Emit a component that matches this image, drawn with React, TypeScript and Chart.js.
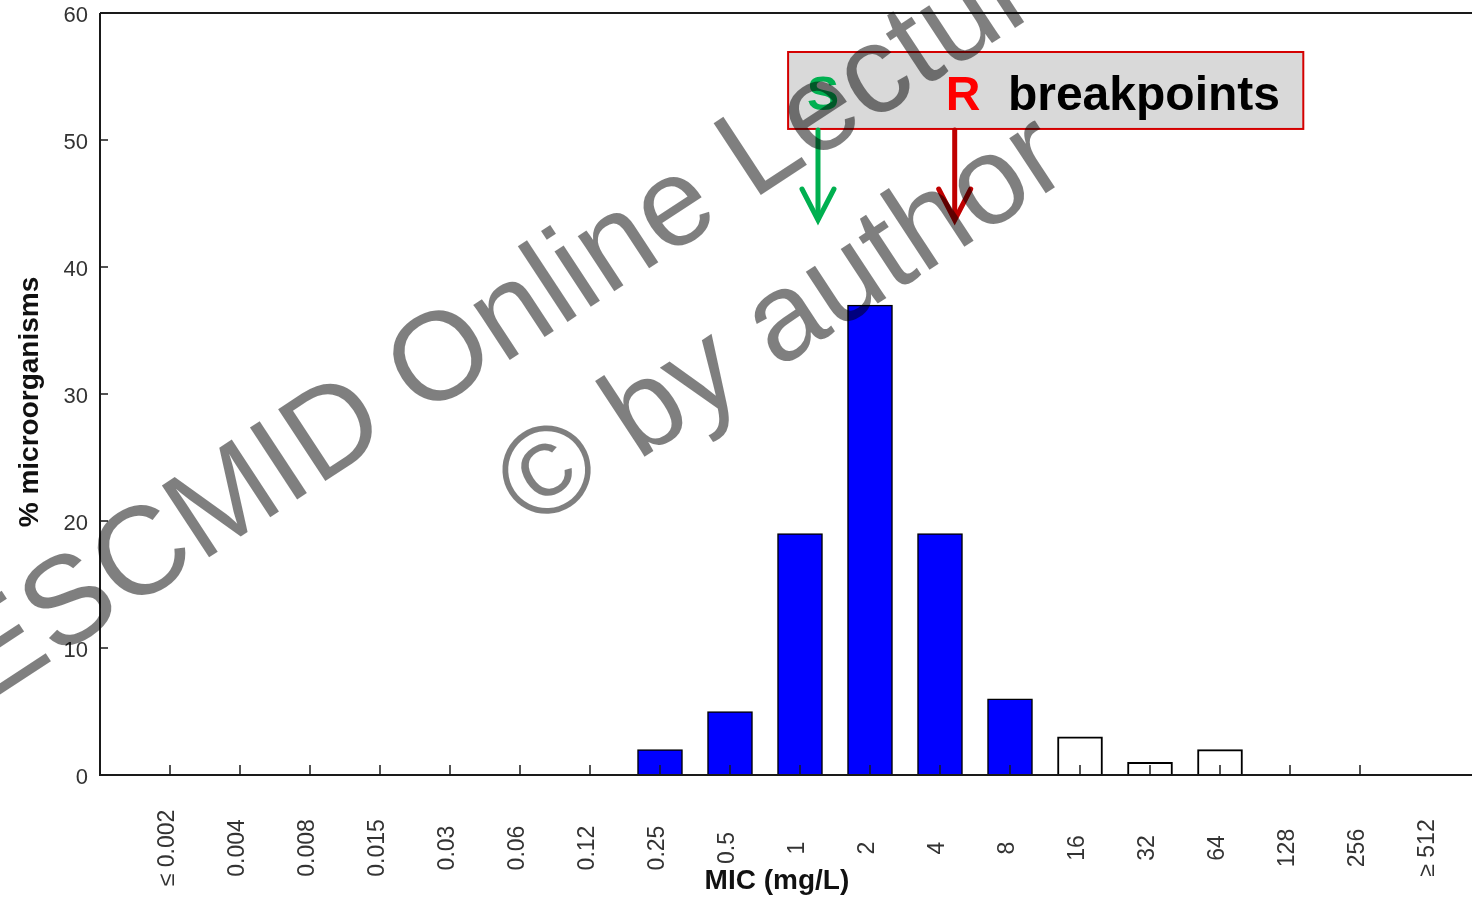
import { useEffect, useRef } from "react";
import { Chart, registerables } from "chart.js";

Chart.register(...registerables);

// ---- Data ----
const categories = [
  "≤ 0.002", "0.004", "0.008", "0.015", "0.03", "0.06", "0.12", "0.25", "0.5",
  "1", "2", "4", "8", "16", "32", "64", "128", "256", "≥ 512",
];
const wildType = [0, 0, 0, 0, 0, 0, 0, 2, 5, 19, 37, 19, 6, 0, 0, 0, 0, 0, 0];
const nonWildType = [0, 0, 0, 0, 0, 0, 0, 0, 0, 0, 0, 0, 0, 3, 1, 2, 0, 0, 0];
const yMin = 0;
const yMax = 60;
const yStep = 10;
const xTitle = "MIC (mg/L)";
const yTitle = "% microorganisms";
const boxWords = ["S", "R", "breakpoints"];
const watermarkLines = ["ESCMID Online Lecture Library", "© by author"];

// ---- Annotation placement (in data units) ----
const boxX = [8.83, 16.19];
const boxY = [50.87, 56.93];
const textY = 52.36;
const sArrowX = 9.257;
const rArrowX = 11.21;
const arrowTipY = 43.7;
const sTextX = 9.33;
const rTextX = 11.33;
const bpTextX = 11.97;

const FONT = "'Liberation Sans', Arial, Helvetica, sans-serif";

const decorPlugin = {
  id: "decor",
  afterDatasetsDraw(chart: any) {
    const { ctx, chartArea, scales } = chart;
    const x = scales.x;
    const y = scales.y;
    ctx.save();
    // axes frame
    ctx.strokeStyle = "#1a1a1a";
    ctx.lineWidth = 2;
    ctx.beginPath();
    ctx.moveTo(chartArea.left, chartArea.top);
    ctx.lineTo(chartArea.right, chartArea.top);
    ctx.moveTo(chartArea.left, chartArea.top);
    ctx.lineTo(chartArea.left, chartArea.bottom);
    ctx.lineTo(chartArea.right, chartArea.bottom);
    ctx.stroke();
    // inward ticks
    ctx.lineWidth = 1.5;
    ctx.beginPath();
    for (let v = yMin; v <= yMax; v += yStep) {
      const py = y.getPixelForValue(v);
      ctx.moveTo(chartArea.left, py);
      ctx.lineTo(chartArea.left + 8, py);
    }
    for (let i = 0; i < categories.length - 1; i++) {
      const px = x.getPixelForValue(i);
      ctx.moveTo(px, chartArea.bottom);
      ctx.lineTo(px, chartArea.bottom - 10);
    }
    ctx.stroke();
    // x labels (rotated)
    ctx.fillStyle = "#333";
    ctx.font = `23px ${FONT}`;
    ctx.textAlign = "center";
    ctx.textBaseline = "middle";
    categories.forEach((c, i) => {
      const px = x.getPixelForValue(i);
      ctx.save();
      ctx.translate(px - 2, chartArea.bottom + 73);
      ctx.rotate(-Math.PI / 2);
      ctx.fillText(c, 0, 0);
      ctx.restore();
    });
    // axis titles
    ctx.fillStyle = "#111";
    ctx.font = `bold 28px ${FONT}`;
    ctx.fillText(xTitle, x.getPixelForValue(8.67), chartArea.bottom + 106);
    ctx.save();
    ctx.translate(30, (chartArea.top + chartArea.bottom) / 2 + 8);
    ctx.rotate(-Math.PI / 2);
    ctx.fillText(yTitle, 0, 0);
    ctx.restore();

    // annotation box
    const bx1 = x.getPixelForValue(boxX[0]);
    const bx2 = x.getPixelForValue(boxX[1]);
    const by1 = y.getPixelForValue(boxY[1]);
    const by2 = y.getPixelForValue(boxY[0]);
    ctx.fillStyle = "#d9d9d9";
    ctx.fillRect(bx1, by1, bx2 - bx1, by2 - by1);
    ctx.strokeStyle = "#d40000";
    ctx.lineWidth = 2;
    ctx.strokeRect(bx1, by1, bx2 - bx1, by2 - by1);
    const ty = y.getPixelForValue(textY);
    ctx.font = `bold 48px ${FONT}`;
    ctx.textBaseline = "alphabetic";
    ctx.textAlign = "center";
    ctx.fillStyle = "#00b050";
    ctx.fillText(boxWords[0], x.getPixelForValue(sTextX), ty);
    ctx.fillStyle = "#ff0000";
    ctx.fillText(boxWords[1], x.getPixelForValue(rTextX), ty);
    ctx.fillStyle = "#000";
    ctx.textAlign = "left";
    ctx.fillText(boxWords[2], x.getPixelForValue(bpTextX), ty);

    // arrows
    const drawArrow = (xv: number, color: string) => {
      const px = x.getPixelForValue(xv);
      const tip = y.getPixelForValue(arrowTipY);
      ctx.strokeStyle = color;
      ctx.lineWidth = 5;
      ctx.lineCap = "round";
      ctx.lineJoin = "miter";
      ctx.beginPath();
      ctx.moveTo(px, by2 + 1);
      ctx.lineTo(px, tip - 2);
      ctx.stroke();
      ctx.beginPath();
      ctx.moveTo(px - 16, tip - 31);
      ctx.lineTo(px, tip);
      ctx.lineTo(px + 16, tip - 31);
      ctx.stroke();
    };
    drawArrow(sArrowX, "#00b050");
    drawArrow(rArrowX, "#c00000");
    ctx.restore();
  },
  afterDraw(chart: any) {
    const { ctx } = chart;
    ctx.save();
    ctx.translate(741, 259.5);
    ctx.rotate((-33.3 * Math.PI) / 180);
    ctx.fillStyle = "rgba(0,0,0,0.5)";
    ctx.font = `125px ${FONT}`;
    ctx.textAlign = "center";
    ctx.textBaseline = "middle";
    ctx.fillText(watermarkLines[0], 0, -77.5);
    ctx.fillText(watermarkLines[1], 0, 77.5);
    ctx.restore();
  },
};

export default function App() {
  const ref = useRef<HTMLCanvasElement>(null);
  useEffect(() => {
    if (!ref.current) return;
    const toPoints = (arr: number[]) => arr.map((v, i) => ({ x: i, y: v }));
    const chart = new Chart(ref.current, {
      type: "bar",
      data: {
        datasets: [
          {
            label: "wild type",
            data: toPoints(wildType) as any,
            backgroundColor: "#0000ff",
            borderColor: "#000",
            borderWidth: 1.5,
            barThickness: 45,
            grouped: false,
          } as any,
          {
            label: "non-wild type",
            data: toPoints(nonWildType) as any,
            backgroundColor: "#ffffff",
            borderColor: "#000",
            borderWidth: 2,
            barThickness: 45,
            grouped: false,
          } as any,
        ],
      },
      plugins: [decorPlugin],
      options: {
        animation: false,
        responsive: false,
        maintainAspectRatio: false,
        devicePixelRatio: 1,
        layout: { padding: { top: 13, right: 0, left: 0, bottom: 0 } },
        plugins: { legend: { display: false }, tooltip: { enabled: false } },
        scales: {
          x: {
            type: "linear",
            min: -1,
            max: 18.6,
            offset: false,
            grid: { display: false },
            border: { display: false },
            ticks: { display: false },
            afterFit: (s: any) => {
              s.height = 122;
              s.paddingLeft = 0;
              s.paddingRight = 0;
            },
          },
          y: {
            min: yMin,
            max: yMax,
            grid: { display: false, drawTicks: false },
            border: { display: false },
            ticks: {
              stepSize: yStep,
              padding: 12,
              labelOffset: 3,
              color: "#333",
              font: { family: FONT, size: 22 },
            },
            afterFit: (s: any) => {
              s.width = 100;
              s.paddingTop = 0;
              s.paddingBottom = 0;
            },
          },
        },
      } as any,
    });
    return () => chart.destroy();
  }, []);
  return (
    <div style={{ position: "fixed", left: 0, top: 0, width: 1472, height: 897, background: "#fff" }}>
      <canvas ref={ref} width={1472} height={897} />
    </div>
  );
}
